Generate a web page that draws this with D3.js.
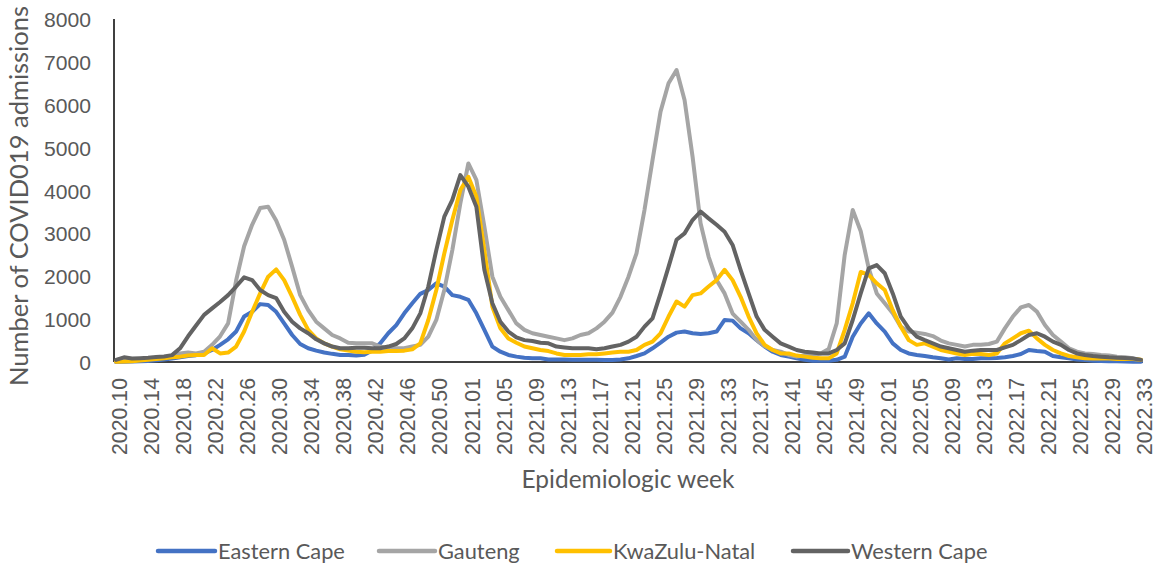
<!DOCTYPE html>
<html><head><meta charset="utf-8">
<script src="https://cdn.jsdelivr.net/npm/d3@7"></script>
<style>
body{margin:0;background:#fff;}
svg{display:block;font-family:Lato,"Open Sans",sans-serif;}
</style>
</head><body>
<svg id="chart" width="1157" height="568"></svg>
<script>
// ---- categories: epidemiologic weeks (year.week) ----
const years = [2020, 2021, 2022];
const firstWeek = [10, 1, 1];
const lastWeek = [53, 52, 33];
const weeks = [];
years.forEach((yr, k) => {
  for (let w = firstWeek[k]; w <= lastWeek[k]; w++) weeks.push(yr + "." + String(w).padStart(2, "0"));
});

const tickLabels = ["2020.10","2020.14","2020.18","2020.22","2020.26","2020.30","2020.34","2020.38","2020.42","2020.46","2020.50",
  "2021.01","2021.05","2021.09","2021.13","2021.17","2021.21","2021.25","2021.29","2021.33","2021.37","2021.41","2021.45","2021.49",
  "2022.01","2022.05","2022.09","2022.13","2022.17","2022.21","2022.25","2022.29","2022.33"];
const yTicks = [0,1000,2000,3000,4000,5000,6000,7000,8000];

// ---- series values ----
const easternCape = [
  0,5,10,15,25,40,60,80,110,140,160,200,
  280,400,530,710,1060,1170,1350,1330,1170,900,630,420,320,265,220,190,165,165,150,170,
  270,435,670,860,1135,1370,1590,1680,1835,1760,1560,1520,1450,1135,750,360,240,165,125,100,85,85,60,60,60,55,55,50,50,45,45,
  60,85,140,200,320,450,590,685,710,670,655,670,710,980,965,785,670,510,360,240,165,125,85,
  50,30,30,30,50,125,590,900,1135,900,710,435,280,200,165,140,110,85,60,85,70,70,
  85,85,95,110,140,185,280,255,240,140,110,85,60,45,30,25,20,15,10,5,5];
const gauteng = [
  10,20,30,50,70,90,110,140,200,220,200,240,
  400,600,900,1900,2700,3200,3590,3620,3300,2850,2220,1560,1210,940,785,630,550,450,435,440,
  435,360,320,320,320,360,400,590,980,1680,2610,3700,4630,4250,3160,1990,1520,1210,900,750,670,630,590,550,510,550,630,670,785,940,1150,
  1520,1990,2535,3550,4710,5840,6500,6810,6110,4790,3235,2460,1910,1600,1130,940,750,510,370,280,240,165,125,
  150,150,200,300,900,2500,3545,3050,2185,1600,1370,1135,825,710,685,655,605,500,435,400,360,400,
  400,420,475,785,1060,1275,1330,1175,865,630,475,320,240,200,185,165,150,125,110,85,50];
const kwazuluNatal = [
  5,10,20,35,50,70,90,110,125,150,165,165,
  320,200,220,360,710,1170,1600,1990,2160,1910,1520,1100,750,550,435,360,295,265,240,225,
  240,240,255,255,265,295,435,980,1680,2535,3310,4010,4320,3860,2610,1290,785,550,450,360,320,280,255,200,165,165,165,180,180,200,220,
  240,240,280,400,475,670,1060,1410,1290,1560,1600,1760,1910,2150,1910,1520,1060,670,400,280,200,200,150,
  125,100,85,85,200,750,1370,2100,2030,1835,1680,1210,825,510,400,435,360,280,240,200,165,190,
  185,165,200,435,550,670,730,550,400,280,200,140,110,85,80,80,80,70,70,70,50];
const westernCape = [
  50,110,80,90,100,115,130,160,320,600,850,1100,
  1250,1400,1560,1760,1975,1910,1680,1560,1490,1170,940,785,670,530,435,360,320,320,335,335,
  320,320,360,420,550,785,1135,1760,2610,3390,3780,4360,4090,3620,2150,1370,940,710,575,510,490,450,435,360,340,320,320,320,295,320,360,
  400,475,590,825,1020,1600,2220,2850,3000,3310,3510,3350,3200,3040,2730,2150,1600,1060,750,590,435,360,280,
  240,220,200,200,280,435,980,1600,2185,2260,2070,1600,1060,785,590,510,435,360,320,280,240,265,
  280,280,280,340,400,510,630,670,590,475,400,280,200,165,140,125,110,100,95,80,50];

const seriesNames = ["Eastern Cape","Gauteng","KwaZulu-Natal","Western Cape"];
const seriesColors = ["#4472C4","#A5A5A5","#FFC000","#636363"];
const seriesValues = [easternCape, gauteng, kwazuluNatal, westernCape];

// ---- layout ----
const svg = d3.select("#chart");
const plotLeft = 114, plotRight = 1143, plotTop = 19, plotBottom = 362;
const textColor = "#595959";

const x = d3.scalePoint().domain(weeks).range([116, 1141]);
const y = d3.scaleLinear().domain([0, 8000]).range([plotBottom, plotTop]);

function fitWidth(sel, target) {
  sel.each(function() {
    const fs = parseFloat(getComputedStyle(this).fontSize);
    const w = this.getComputedTextLength();
    if (w > 0) d3.select(this).style("font-size", (fs * target / w) + "px");
  });
}

// y axis
const yAxis = svg.append("g").attr("transform", `translate(${plotLeft},0)`)
  .call(d3.axisLeft(y).tickValues(yTicks).tickFormat(d3.format("d")).tickSize(0).tickPadding(23));
yAxis.select(".domain").remove();
yAxis.selectAll("text").style("font-size", "20px").style("fill", textColor).attr("dy", "0.36em");
const probe = yAxis.selectAll("text").filter(d => d === 8000);
{
  const fs = 20, w = probe.node().getComputedTextLength();
  yAxis.selectAll("text").style("font-size", (fs * 47 / w) + "px");
}

// x axis
const xAxis = svg.append("g").attr("transform", `translate(0,${plotBottom})`)
  .call(d3.axisBottom(x).tickValues(tickLabels).tickSize(0));
xAxis.select(".domain").remove();
xAxis.selectAll("text")
  .style("font-size", "20px").style("fill", textColor)
  .attr("transform", "rotate(-90)")
  .attr("x", -16).attr("y", 3).attr("dy", "0.36em")
  .style("text-anchor", "end");
{
  const t = xAxis.selectAll("text").filter(d => d === "2020.10").node();
  const w = t.getComputedTextLength();
  xAxis.selectAll("text").style("font-size", (20 * 77 / w) + "px");
}

// axis lines
svg.append("line").attr("x1", plotLeft).attr("x2", plotLeft).attr("y1", plotTop).attr("y2", plotBottom)
  .attr("stroke", "#000").attr("stroke-width", 1.5);
svg.append("line").attr("x1", plotLeft).attr("x2", plotRight).attr("y1", plotBottom).attr("y2", plotBottom)
  .attr("stroke", "#000").attr("stroke-width", 1.5);

// lines
const line = d3.line().x((d, i) => x(weeks[i])).y(d => y(d));
seriesValues.forEach((vals, k) => {
  svg.append("path").datum(vals)
    .attr("d", line)
    .attr("fill", "none")
    .attr("stroke", seriesColors[k])
    .attr("stroke-width", 4)
    .attr("stroke-linejoin", "round")
    .attr("stroke-linecap", "round");
});

// axis titles
const xt = svg.append("text").attr("x", 628).attr("y", 488).attr("text-anchor", "middle")
  .style("font-size", "22px").style("fill", textColor).text("Epidemiologic week");
fitWidth(xt, 213);
const yt = svg.append("text").attr("transform", "translate(28,196) rotate(-90)").attr("text-anchor", "middle")
  .style("font-size", "22px").style("fill", textColor).text("Number of COVID019 admissions");
fitWidth(yt, 380);

// legend
const legendLineX = [[158,215],[379,435],[557,610],[793,848]];
const legendY = 551;
seriesNames.forEach((name, k) => {
  svg.append("line").attr("x1", legendLineX[k][0]).attr("x2", legendLineX[k][1])
    .attr("y1", legendY).attr("y2", legendY)
    .attr("stroke", seriesColors[k]).attr("stroke-width", 4.5).attr("stroke-linecap", "round");
  const t = svg.append("text").attr("x", legendLineX[k][1] + 3).attr("y", legendY).attr("dy", "0.36em")
    .style("font-size", "21px").style("fill", textColor).text(name);
  if (k === 0) fitWidth(t, 127);
});
// use the same size for all legend labels
{
  const fs = svg.selectAll("text").filter(function(){ return this.textContent === "Eastern Cape"; }).style("font-size");
  svg.selectAll("text").filter(function(){ return seriesNames.includes(this.textContent); }).style("font-size", fs);
}
</script>
</body></html>
